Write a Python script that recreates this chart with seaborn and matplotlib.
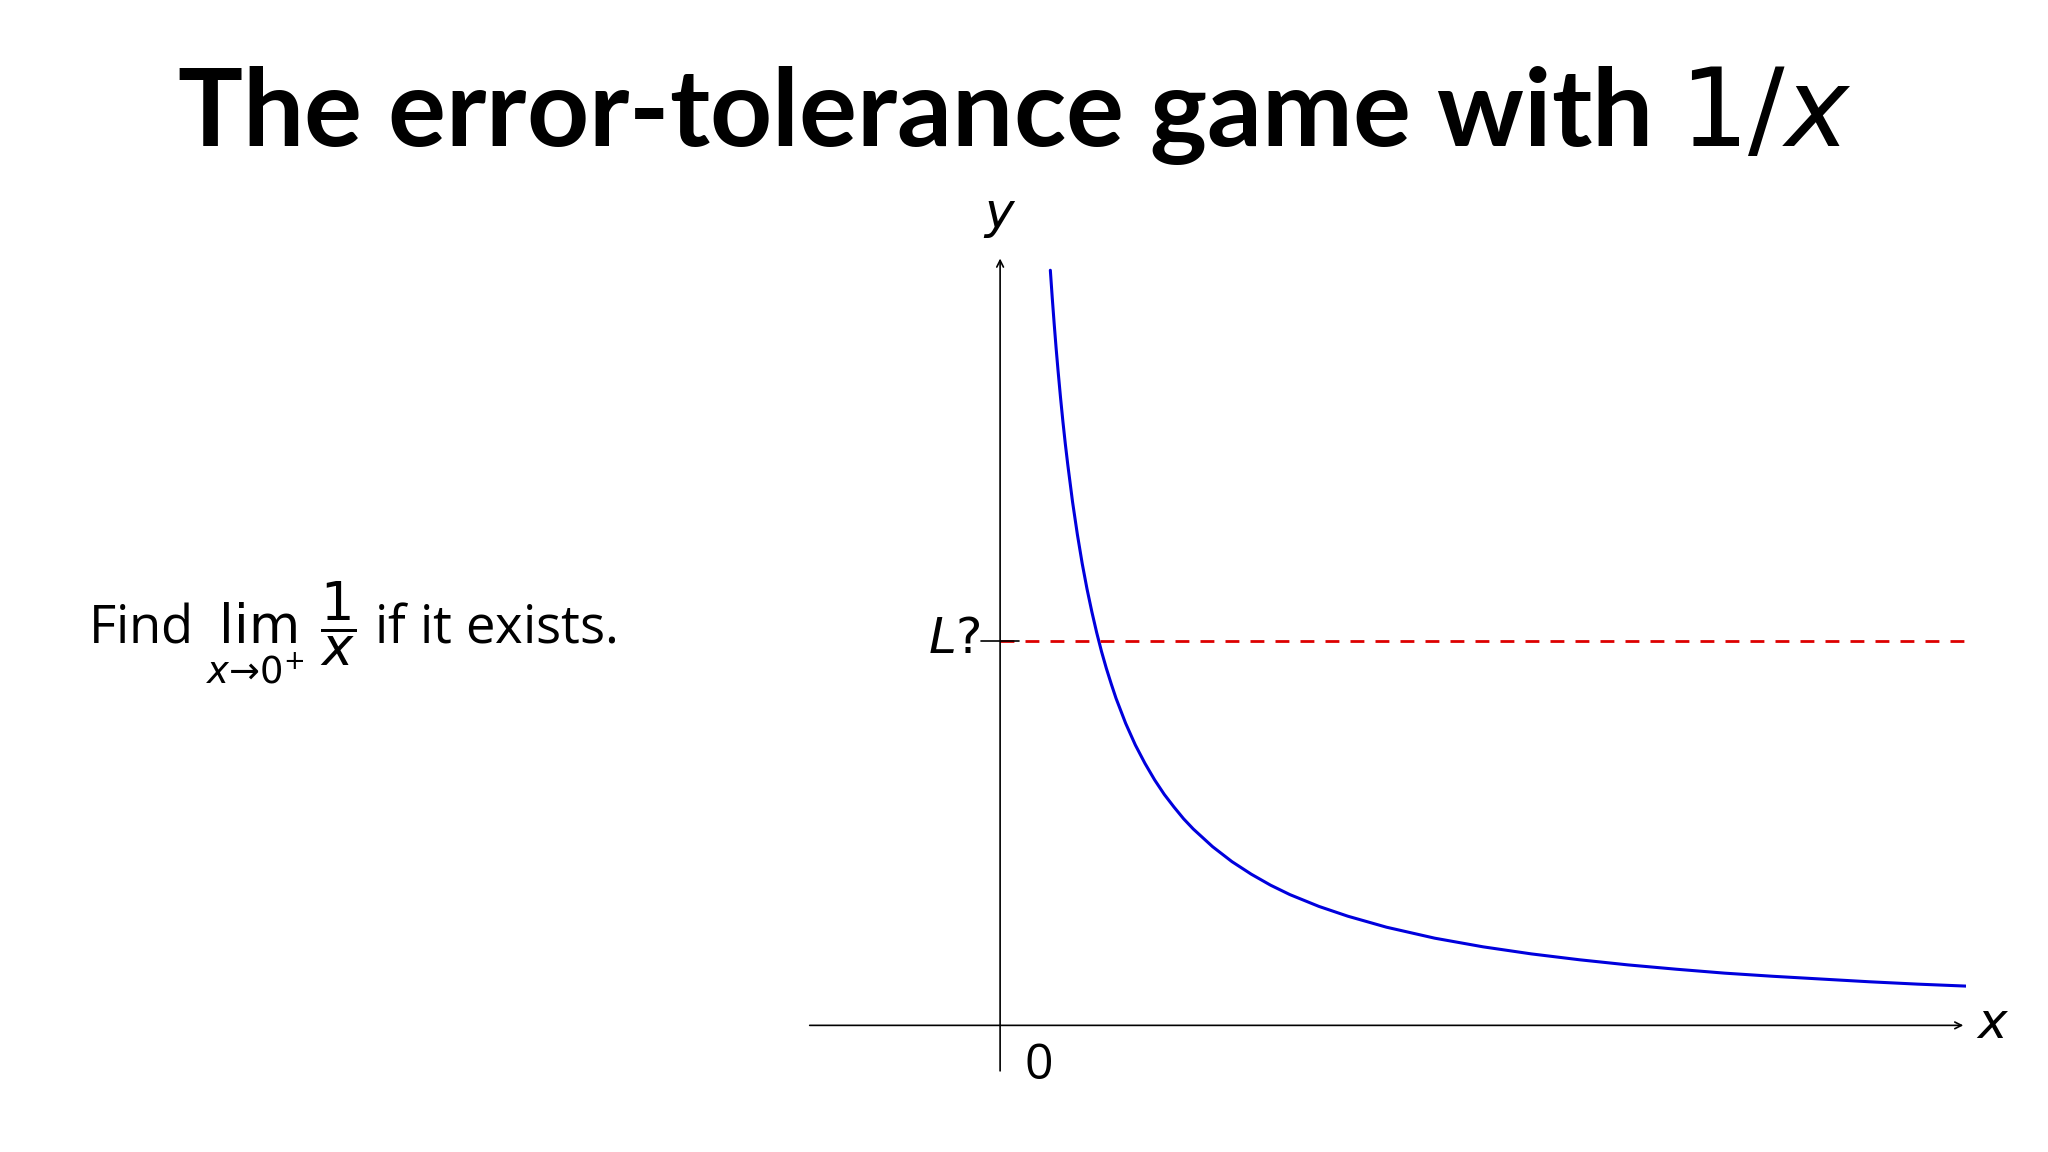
import matplotlib
matplotlib.use("Agg")
import matplotlib.pyplot as plt
import seaborn as sns
import pandas as pd

sns.set_theme(style="white")
plt.rcParams['font.family'] = ['Open Sans', 'DejaVu Sans']
plt.rcParams['mathtext.fontset'] = 'dejavusans'
plt.rcParams['text.color'] = 'black'

x_vals = [0.052, 0.054, 0.056, 0.058, 0.06, 0.0625, 0.065, 0.0675, 0.07, 0.075, 0.08, 0.085, 0.09,
          0.095, 0.1, 0.105, 0.11, 0.115, 0.12, 0.13, 0.14, 0.15, 0.16, 0.17, 0.18, 0.19, 0.2,
          0.22, 0.24, 0.26, 0.28, 0.3, 0.33, 0.36, 0.4, 0.45, 0.5, 0.55, 0.6, 0.65, 0.7, 0.75,
          0.8, 0.85, 0.9, 0.95, 1.0]
y_vals = [19.23, 18.52, 17.86, 17.24, 16.67, 16.0, 15.38, 14.81, 14.29, 13.33, 12.5, 11.76, 11.11,
          10.53, 10.0, 9.52, 9.09, 8.70, 8.33, 7.69, 7.14, 6.67, 6.25, 5.88, 5.56, 5.26, 5.0,
          4.55, 4.17, 3.85, 3.57, 3.33, 3.03, 2.78, 2.5, 2.22, 2.0, 1.82, 1.67, 1.54, 1.43, 1.33,
          1.25, 1.18, 1.11, 1.05, 1.0]
L_value = 9.8
df = pd.DataFrame({"x": x_vals, "y": y_vals})

fig = plt.figure(figsize=(20.48, 11.52), dpi=100)
ax = fig.add_axes([0.394, 0.068, 0.566, 0.71])
ax.set_xlim(-0.2, 1.0)
ax.set_ylim(-1.23, 19.6)
ax.axis("off")

sns.lineplot(data=df, x="x", y="y", ax=ax, color="#0000dd", lw=2.2, sort=False)
ax.plot([0, 1.0], [L_value, L_value], color="#dd0000", lw=2, ls=(0, (5, 4)))
ax.plot([-0.02, 0.02], [L_value, L_value], color="black", lw=1.2)

ax.annotate("", xy=(1.0, 0), xytext=(-0.2, 0),
            arrowprops=dict(arrowstyle="->", lw=1.2, color="black"))
ax.annotate("", xy=(0, 19.6), xytext=(0, -1.23),
            arrowprops=dict(arrowstyle="->", lw=1.2, color="black"))
ax.text(1.01, 0, "$x$", fontsize=36, va="center", ha="left")
ax.text(0, 20.0, "$y$", fontsize=36, va="bottom", ha="center")
ax.text(0.025, -0.4, "0", fontsize=36, va="top", ha="left")
ax.text(-0.02, L_value, "$L?$", fontsize=36, va="center", ha="right")

fig.text(0.495, 0.90, "The error-tolerance game with $1/x$", fontsize=78,
         fontweight="bold", ha="center", va="center", family=['Lato', 'DejaVu Sans'])
fig.text(0.043, 0.45, r"Find $\lim_{x\to 0^+}\,\dfrac{1}{x}$ if it exists.",
         fontsize=38, ha="left", va="center")

fig.savefig("out.png", dpi=100, facecolor="white")
